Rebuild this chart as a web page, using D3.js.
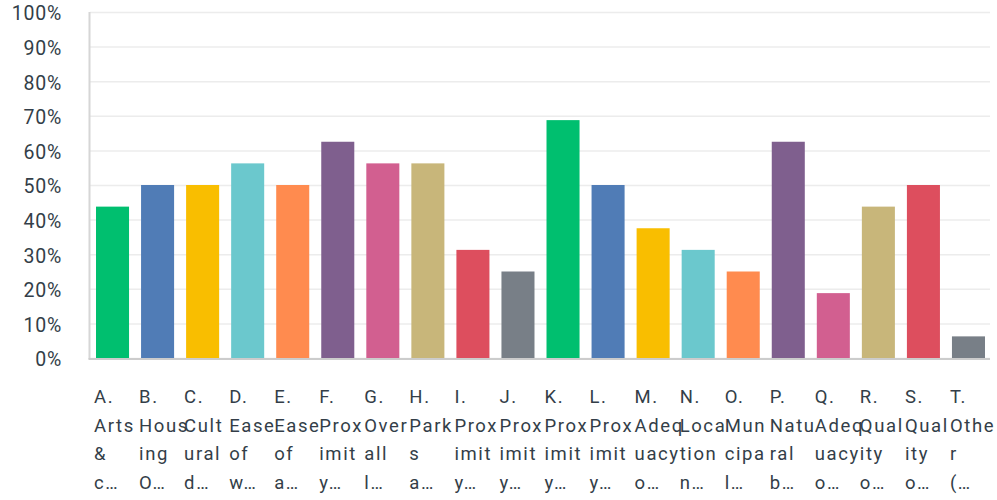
<!DOCTYPE html>
<html>
<head>
<meta charset="utf-8">
<script src="https://cdn.jsdelivr.net/npm/d3@7"></script>
<style>
  html, body { margin: 0; padding: 0; background: #fff; }
  svg { display: block; }
  text { font-family: Roboto, "Noto Sans", sans-serif; fill: #333e48; }
</style>
</head>
<body>
<svg id="chart" width="997" height="500"></svg>
<script>
const categories = ["A","B","C","D","E","F","G","H","I","J","K","L","M","N","O","P","Q","R","S","T"];
const labelLines = [
  ["A.","Arts","&","c…"],
  ["B.","Hous","ing","O…"],
  ["C.","Cult","ural","d…"],
  ["D.","Ease","of","w…"],
  ["E.","Ease","of","a…"],
  ["F.","Prox","imit","y…"],
  ["G.","Over","all","l…"],
  ["H.","Park","s","a…"],
  ["I.","Prox","imit","y…"],
  ["J.","Prox","imit","y…"],
  ["K.","Prox","imit","y…"],
  ["L.","Prox","imit","y…"],
  ["M.","Adeq","uacy","o…"],
  ["N.","Loca","tion","n…"],
  ["O.","Mun","cipa","l…"],
  ["P.","Natu","ral","b…"],
  ["Q.","Adeq","uacy","o…"],
  ["R.","Qual","ity","o…"],
  ["S.","Qual","ity","o…"],
  ["T.","Othe","r","(…"]
];
const values = [43.75, 50, 50, 56.25, 50, 62.5, 56.25, 56.25, 31.25, 25, 68.75, 50, 37.5, 31.25, 25, 62.5, 18.75, 43.75, 50, 6.25];
const colors = ["#00bf6f","#507cb6","#f9be00","#6bc8cd","#ff8b4f","#7f5f8e","#d25f90","#c8b67a","#dd4e5e","#787f87",
                "#00bf6f","#507cb6","#f9be00","#6bc8cd","#ff8b4f","#7f5f8e","#d25f90","#c8b67a","#dd4e5e","#787f87"];
const yTicks = [0,10,20,30,40,50,60,70,80,90,100];

const svg = d3.select("#chart");
const mLeft = 90, mRight = 991, mTop = 12, mBottom = 358;

const x = d3.scaleBand().domain(categories).range([mLeft, mRight])
  .paddingInner(12/45).paddingOuter(6/45);
const y = d3.scaleLinear().domain([0, 100]).range([mBottom, mTop]);

// gridlines
const grid = svg.append("g").attr("transform", `translate(${mLeft},0)`)
  .call(d3.axisLeft(y).tickValues(yTicks).tickSize(-(990 - mLeft)).tickFormat(""));
grid.select(".domain").remove();
grid.selectAll(".tick line").attr("stroke", "#ececec").attr("stroke-width", 1.5);

// y tick labels
svg.append("g").selectAll("text").data(yTicks).join("text")
  .attr("x", 62).attr("y", d => y(d) + 1.5)
  .attr("dy", "0.35em")
  .attr("text-anchor", "end")
  .style("font-size", "19.5px")
  .style("letter-spacing", "0.8px")
  .text(d => d + "%");

// bars
svg.append("g").selectAll("rect").data(values).join("rect")
  .attr("x", (d, i) => x(categories[i]))
  .attr("width", x.bandwidth())
  .attr("y", d => y(d))
  .attr("height", d => y(0) - y(d))
  .attr("fill", (d, i) => colors[i]);

// axis lines
svg.append("line").attr("x1", mLeft - 0.5).attr("x2", mLeft - 0.5).attr("y1", mTop).attr("y2", mBottom + 1)
  .attr("stroke", "#d6d6d6").attr("stroke-width", 2);
svg.append("line").attr("x1", mLeft - 1.5).attr("x2", 990).attr("y1", mBottom + 1).attr("y2", mBottom + 1)
  .attr("stroke", "#cccccc").attr("stroke-width", 2);

// x labels
const lbl = svg.append("g").selectAll("text").data(labelLines).join("text")
  .attr("x", (d, i) => x(categories[i]) - x.step() * 6/45 + 4)
  .attr("y", 403)
  .style("font-size", "18.5px")
  .style("letter-spacing", "1.6px");
lbl.selectAll("tspan").data(d => d).join("tspan")
  .attr("x", function() { return d3.select(this.parentNode).attr("x"); })
  .attr("dy", (d, i) => i === 0 ? 0 : 28.5)
  .text(d => d);
</script>
</body>
</html>
